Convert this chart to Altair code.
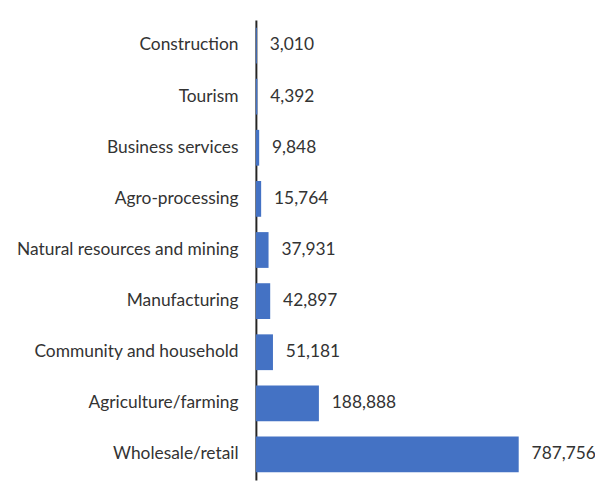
import altair as alt
import pandas as pd

sectors = [
    "Construction",
    "Tourism",
    "Business services",
    "Agro-processing",
    "Natural resources and mining",
    "Manufacturing",
    "Community and household",
    "Agriculture/farming",
    "Wholesale/retail",
]
values = [3010, 4392, 9848, 15764, 37931, 42897, 51181, 188888, 787756]

df = pd.DataFrame({"sector": sectors, "value": values})

FONT = "Lato"
TXT = "#333333"

y = alt.Y(
    "sector:N",
    sort=sectors,
    scale=alt.Scale(paddingInner=0.3, paddingOuter=0.15),
    axis=alt.Axis(
        title=None,
        ticks=False,
        labelPadding=18,
        labelFont=FONT,
        labelFontSize=17.5,
        labelColor=TXT,
        domainColor="#262626",
        domainWidth=2,
        labelLimit=400,
    ),
)
x = alt.X("value:Q", scale=alt.Scale(domain=[0, 850000]), axis=None)

bars = alt.Chart(df).mark_bar(color="#4472C4").encode(x=x, y=y)
labels = alt.Chart(df).mark_text(
    align="left", baseline="middle", dx=13, font=FONT, fontSize=17.5, color=TXT
).encode(x=x, y=y, text=alt.Text("value:Q", format=",.0f"))

chart = (
    alt.layer(bars, labels)
    .properties(
        width=286,
        height=464,
        autosize=alt.AutoSizeParams(type="none"),
        padding={"left": 250, "top": 10, "right": 56, "bottom": 10},
        background="white",
    )
    .configure_view(stroke=None)
)

chart.save("out.html", embed_options={"renderer": "svg", "actions": False})
